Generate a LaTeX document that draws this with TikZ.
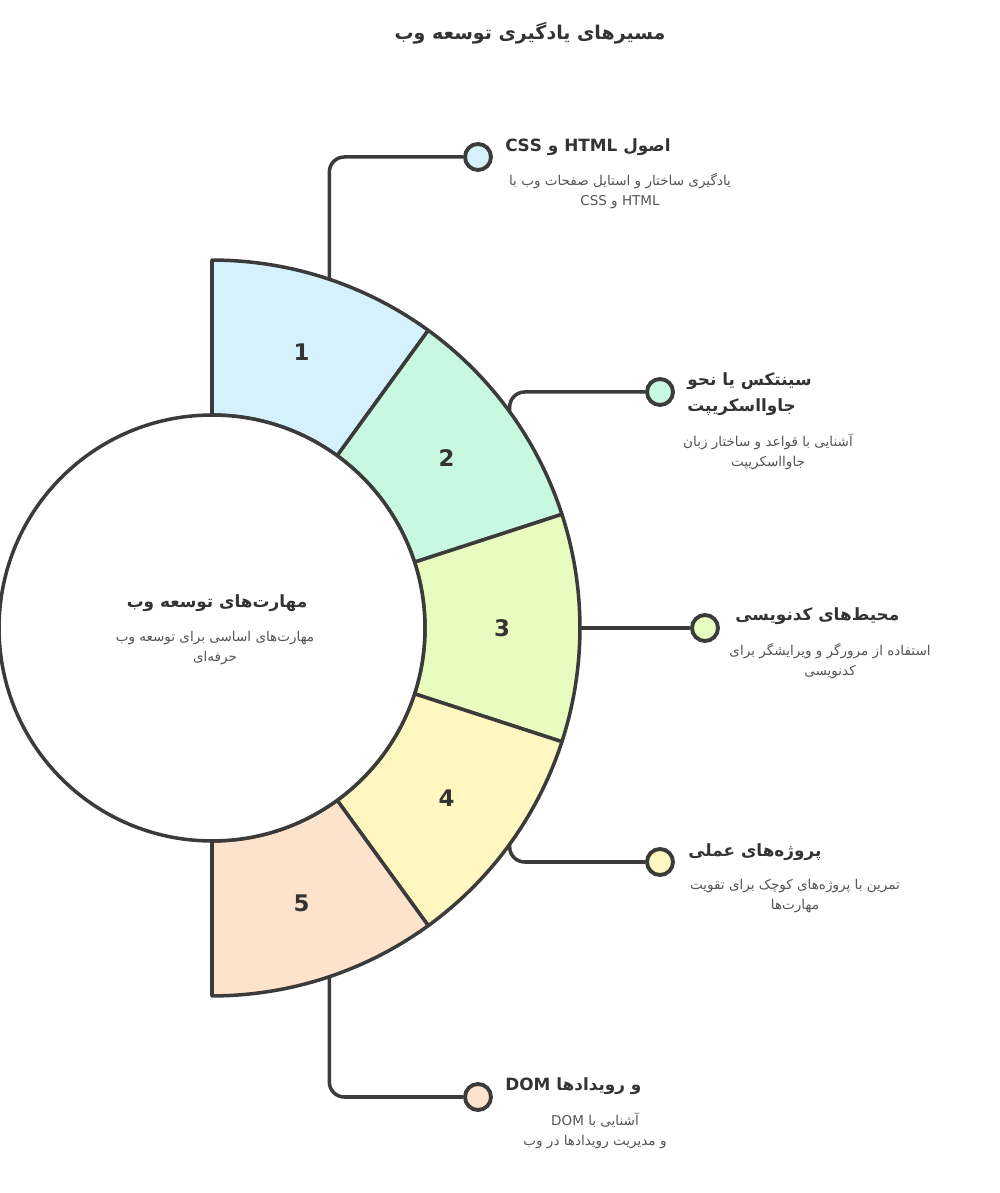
\documentclass[tikz,border=0pt]{standalone}
\usepackage{fontspec}
\usetikzlibrary{calc}
\TeXXeTstate=1
\newfontfamily\fa[Script=Arabic]{DejaVu Sans}
\newfontfamily\numfont{DejaVu Sans}

\definecolor{linec}{HTML}{3B3B3B}
\definecolor{headc}{HTML}{333333}
\definecolor{descc}{HTML}{555555}
\definecolor{segA}{HTML}{D4F1FC}
\definecolor{segB}{HTML}{C8F8E0}
\definecolor{segC}{HTML}{E8FCC0}
\definecolor{segD}{HTML}{FFF6C0}
\definecolor{segE}{HTML}{FDE2CC}

\def\rin{4.26cm}
\def\rout{7.36cm}
\def\rmid{5.8cm}

\tikzset{
  seg/.style={draw=linec, line width=2pt, line join=round},
  conn/.style={draw=linec, line width=2pt, rounded corners=0.3cm},
  dot/.style={circle, draw=linec, line width=2.2pt, minimum size=0.52cm, inner sep=0pt},
  head/.style={font=\fa\bfseries\fontsize{9.6}{14.5}\selectfont, text=headc, anchor=west, align=left, inner sep=0pt},
  desc/.style={font=\fa\fontsize{7.7}{11.3}\selectfont, text=descc, align=center, inner sep=0pt},
  num/.style={font=\numfont\bfseries\fontsize{13}{16}\selectfont, text=headc}
}

\begin{document}
\begin{tikzpicture}[x=0.02cm, y=0.02cm]
    \useasboundingbox (0,0) rectangle (1000,1193);
    \coordinate (C) at (212,565);

    % title
    \node[font=\fa\bfseries\fontsize{10.8}{14}\selectfont, text=headc] (title) at (530,1160) {\beginR مسیرهای یادگیری توسعه وب\endR};

    % end points on the ring
    \coordinate (p1) at ($(C)+(71.4:\rout)$);
    \coordinate (p2) at ($(C)+(36:\rout)$);
    \coordinate (p3) at ($(C)+(0:\rout)$);
    \coordinate (p4) at ($(C)+(-36:\rout)$);
    \coordinate (p5) at ($(C)+(-71.4:\rout)$);

    \node[dot, fill=segA] (dot1) at (478,1036) {};
    \node[dot, fill=segB] (dot2) at (660,801) {};
    \node[dot, fill=segC] (dot3) at (705,565) {};
    \node[dot, fill=segD] (dot4) at (660,331) {};
    \node[dot, fill=segE] (dot5) at (478,96) {};

    \draw[conn] (p1) |- (dot1.west);
    \draw[conn] (p2) |- (dot2.west);
    \draw[conn] (p3) -- (dot3.west);
    \draw[conn] (p4) |- (dot4.west);
    \draw[conn] (p5) |- (dot5.west);

    % ring segments
    \foreach \col [count=\i from 0] in {segA,segB,segC,segD,segE} {
      \pgfmathsetmacro{\a}{90-36*\i}
      \pgfmathsetmacro{\b}{54-36*\i}
      \draw[seg, fill=\col] ($(C)+(\a:\rout)$) arc[start angle=\a, end angle=\b, radius=\rout]
        -- ($(C)+(\b:\rin)$) arc[start angle=\b, end angle=\a, radius=\rin] -- cycle;
      \node[num] (n\i) at ($(C)+(\a-18:\rmid)$) {\pgfmathparse{int(\i+1)}\pgfmathresult};
    }

    % center circle
    \draw[seg, fill=white] (C) circle (\rin);
    \node[font=\fa\bfseries\fontsize{9.6}{14}\selectfont, text=headc] (hub) at (217,590) {\beginR مهارت^^^^200cهای توسعه وب\endR};
    \node[desc] (hubd) at (215,545) {\beginR مهارت^^^^200cهای اساسی برای توسعه وب\endR\\ \beginR حرفه^^^^200cای\endR};

    % labels
    \node[head] (h1) at (505,1046) {\beginR اصول \beginL HTML\endL{} و \beginL CSS\endL\endR};
    \node[desc] (d1) at (620,1002) {\beginR یادگیری ساختار و استایل صفحات وب با\endR\\ \beginR\beginL HTML\endL{} و \beginL CSS\endL\endR};

    \node[head] (h2) at (687,799) {\beginR سینتکس یا نحو\endR\\ \beginR جاوااسکریپت\endR};
    \node[desc] (d2) at (768,741) {\beginR آشنایی با قواعد و ساختار زبان\endR\\ \beginR جاوااسکریپت\endR};

    \node[head] (h3) at (735,577) {\beginR محیط^^^^200cهای کدنویسی\endR};
    \node[desc] (d3) at (830,532) {\beginR استفاده از مرورگر و ویرایشگر برای\endR\\ \beginR کدنویسی\endR};

    \node[head] (h4) at (688,341) {\beginR پروژه^^^^200cهای عملی\endR};
    \node[desc] (d4) at (795,297) {\beginR تمرین با پروژه^^^^200cهای کوچک برای تقویت\endR\\ \beginR مهارت^^^^200cها\endR};

    \node[head] (h5) at (505,107) {\beginR و رویدادها \beginL DOM\endL\endR};
    \node[desc] (d5) at (595,62) {\beginR آشنایی با \beginL DOM\endL\endR\\ \beginR و مدیریت رویدادها در وب\endR};
\end{tikzpicture}
\end{document}
